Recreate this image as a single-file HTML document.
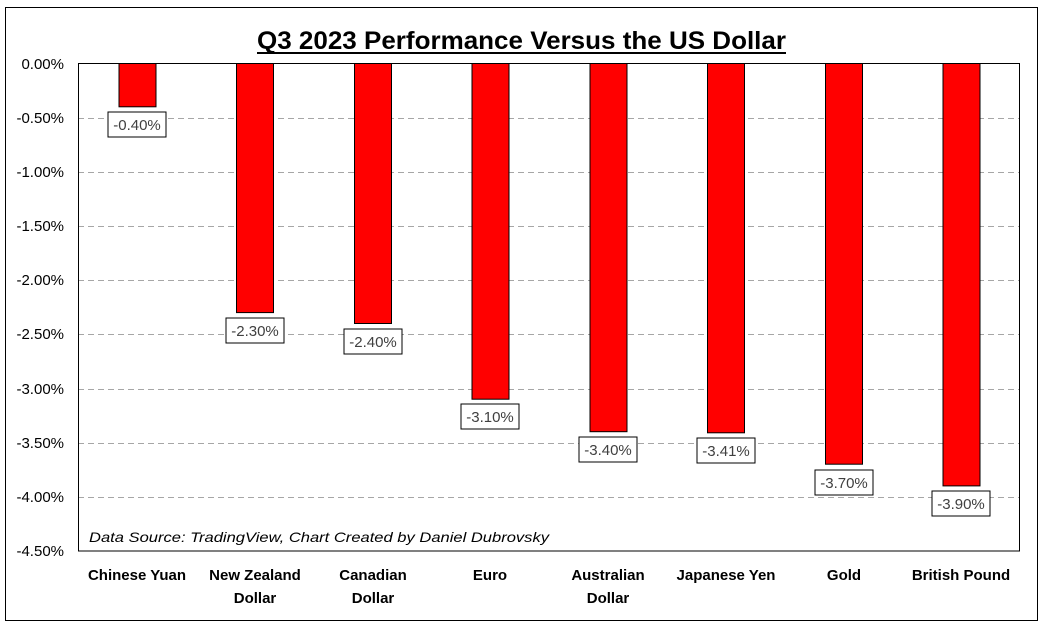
<!DOCTYPE html>
<html><head><style>body{margin:0;background:#fff}</style></head><body>
<svg width="1049" height="629" xmlns="http://www.w3.org/2000/svg" font-family="Liberation Sans, sans-serif">
<rect x="0" y="0" width="1049" height="629" fill="#fff"/>
<rect x="5.5" y="7.5" width="1032" height="613" fill="none" stroke="#000" stroke-width="1"/>
<text x="257" y="49" font-size="25" font-weight="bold" textLength="529" lengthAdjust="spacingAndGlyphs">Q3 2023 Performance Versus the US Dollar</text>
<line x1="257" y1="53" x2="786" y2="53" stroke="#000" stroke-width="2"/>
<g stroke="#a6a6a6" stroke-dasharray="6,4" stroke-width="1">
<line x1="78" x2="1020" y1="118.5" y2="118.5"/><line x1="78" x2="1020" y1="172.5" y2="172.5"/>
<line x1="78" x2="1020" y1="226.5" y2="226.5"/><line x1="78" x2="1020" y1="280.5" y2="280.5"/>
<line x1="78" x2="1020" y1="334.5" y2="334.5"/><line x1="78" x2="1020" y1="389.5" y2="389.5"/>
<line x1="78" x2="1020" y1="443.5" y2="443.5"/><line x1="78" x2="1020" y1="497.5" y2="497.5"/>
</g>
<rect x="78.5" y="63.5" width="941" height="487.5" fill="none" stroke="#000"/>
<g font-size="15" text-anchor="end" fill="#000">
<text x="64" y="69">0.00%</text><text x="64" y="123">-0.50%</text><text x="64" y="177">-1.00%</text>
<text x="64" y="231">-1.50%</text><text x="64" y="285">-2.00%</text><text x="64" y="339">-2.50%</text>
<text x="64" y="394">-3.00%</text><text x="64" y="448">-3.50%</text><text x="64" y="502">-4.00%</text><text x="64" y="556">-4.50%</text>
</g>
<g fill="#ff0000" stroke="#000" stroke-width="1">
<rect x="119" y="63.5" width="37" height="43.3"/>
<rect x="236.5" y="63.5" width="37" height="249.1"/>
<rect x="354.5" y="63.5" width="37" height="260"/>
<rect x="472" y="63.5" width="37" height="335.7"/>
<rect x="590" y="63.5" width="37" height="368.2"/>
<rect x="707.5" y="63.5" width="37" height="369.3"/>
<rect x="825.5" y="63.5" width="37" height="400.7"/>
<rect x="943" y="63.5" width="37" height="422.4"/>
</g>
<g font-size="15" text-anchor="middle" fill="#404040">
<g><rect x="108" y="112" width="58" height="25" fill="#fff" stroke="#000"/><text x="137" y="130">-0.40%</text></g>
<g><rect x="226" y="318" width="58" height="25" fill="#fff" stroke="#000"/><text x="255" y="336">-2.30%</text></g>
<g><rect x="344" y="329" width="58" height="25" fill="#fff" stroke="#000"/><text x="373" y="347">-2.40%</text></g>
<g><rect x="461" y="404" width="58" height="25" fill="#fff" stroke="#000"/><text x="490" y="422">-3.10%</text></g>
<g><rect x="579" y="437" width="58" height="25" fill="#fff" stroke="#000"/><text x="608" y="455">-3.40%</text></g>
<g><rect x="697" y="438" width="58" height="25" fill="#fff" stroke="#000"/><text x="726" y="456">-3.41%</text></g>
<g><rect x="815" y="470" width="58" height="25" fill="#fff" stroke="#000"/><text x="844" y="488">-3.70%</text></g>
<g><rect x="932" y="491" width="58" height="25" fill="#fff" stroke="#000"/><text x="961" y="509">-3.90%</text></g>
</g>
<text x="89" y="542" font-size="14" font-style="italic" fill="#000" textLength="460" lengthAdjust="spacingAndGlyphs">Data Source: TradingView, Chart Created by Daniel Dubrovsky</text>
<g font-size="15" font-weight="bold" text-anchor="middle" fill="#000">
<text x="137" y="580">Chinese Yuan</text>
<text x="255" y="580">New Zealand</text><text x="255" y="603">Dollar</text>
<text x="373" y="580">Canadian</text><text x="373" y="603">Dollar</text>
<text x="490" y="580">Euro</text>
<text x="608" y="580">Australian</text><text x="608" y="603">Dollar</text>
<text x="726" y="580">Japanese Yen</text>
<text x="844" y="580">Gold</text>
<text x="961" y="580">British Pound</text>
</g>
</svg>
</body></html>
